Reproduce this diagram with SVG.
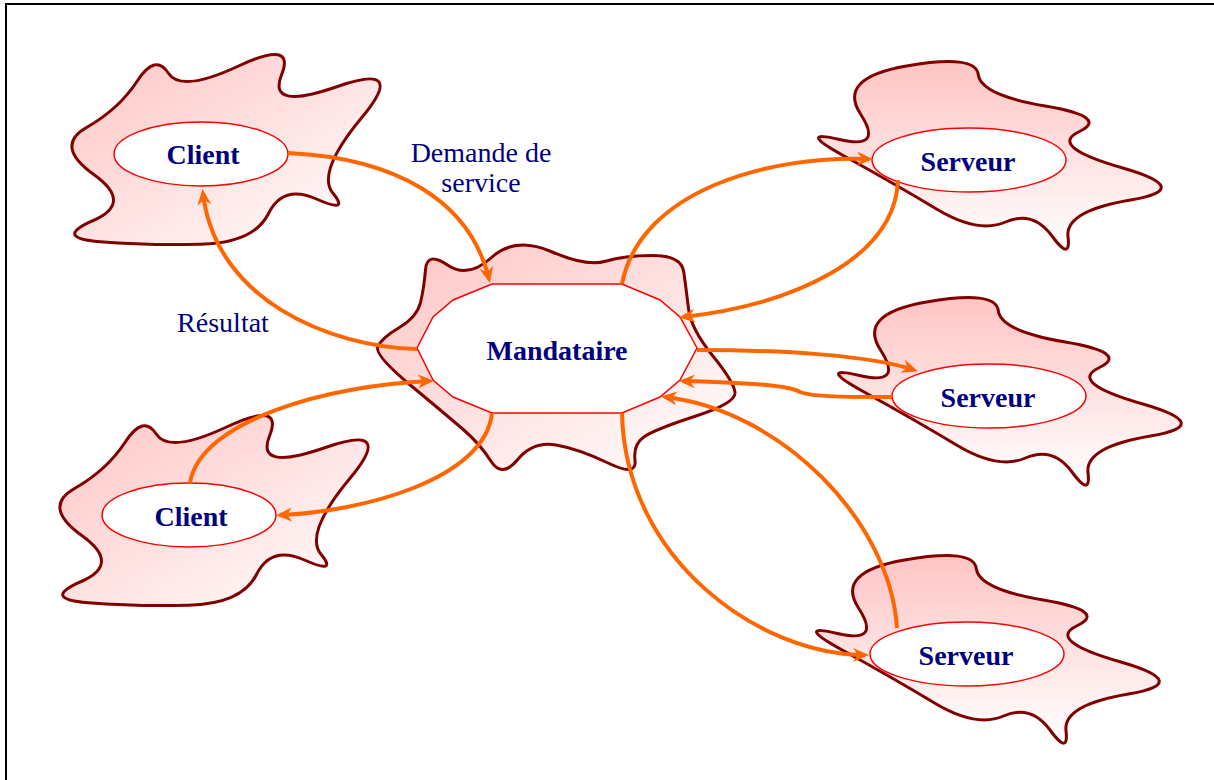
<svg xmlns="http://www.w3.org/2000/svg" width="1214" height="780" viewBox="0 0 1214 780">
  <defs>
    <linearGradient id="gDiag" x1="0" y1="0" x2="1" y2="1">
      <stop offset="0" stop-color="#ffc4c4"/>
      <stop offset="1" stop-color="#ffffff"/>
    </linearGradient>
    <linearGradient id="gVert" x1="0" y1="0" x2="0" y2="1">
      <stop offset="0" stop-color="#ffc4c4"/>
      <stop offset="1" stop-color="#ffffff"/>
    </linearGradient>
    <marker id="arrow" viewBox="0 0 16 14" markerWidth="16" markerHeight="14" refX="12" refY="7" orient="auto" markerUnits="userSpaceOnUse">
      <path d="M0,0 L16,7 L0,14 L5,7 Z" fill="#ff6600"/>
    </marker>
    <!-- wavy outlines reused by the client and server blobs -->
    <path id="clientBlob" d="M93.75,174.5 Q54,146 86.5,127.5 Q119,109 137.25,81 Q155.5,53 168.25,73 Q181,93 238.5,66 Q296,39 281.5,75 Q267,111 337.5,86.5 Q408,62 362,117.25 Q316,172.5 333,193.25 Q350,214 316.5,199 Q283,184 268.5,213.5 Q254,243 200.5,244.25 Q147,245.5 100,241.75 Q53,238 93.25,220.5 Q133.5,203 93.75,174.5 Z"/>
    <path id="serverBlob" d="M845,156.5 Q795,129 839.5,139.5 Q884,150 860.5,114 Q837,78 906.5,66 Q976,54 978.25,74.5 Q980.5,95 1045.25,106 Q1110,117 1079,131.75 Q1048,146.5 1122,167.75 Q1196,189 1130.5,200 Q1065,211 1068,236.5 Q1071,262 1052,236 Q1033,210 1005.5,222 Q978,234 936.5,209 Q895,184 845,156.5 Z"/>
  </defs>
  <style>
    .blob { stroke: #800000; stroke-width: 3; stroke-linejoin: round; }
    .client { fill: url(#gDiag); }
    .server { fill: url(#gVert); }
    .box { fill: #ffffff; stroke: #ff0000; stroke-width: 1.5; }
    .name { font-family: "Liberation Serif", "Times New Roman", serif; font-weight: bold; font-size: 28px; fill: #000080; text-anchor: middle; }
    .note { font-family: "Liberation Serif", "Times New Roman", serif; font-size: 28px; fill: #000080; text-anchor: middle; }
    .link { fill: none; stroke: #ff6600; stroke-width: 4; marker-end: url(#arrow); }
  </style>

  <rect width="1214" height="780" fill="#ffffff"/>
  <path d="M1214,4 H6 V780" fill="none" stroke="#000000" stroke-width="2"/>

  <!-- central broker -->
  <g id="mandataire">
    <path class="blob client" d="M425.5,269.5 Q427,251 447.5,265 Q468,279 491.5,257.5 Q515,236 551,251.5 Q587,267 605.5,261.25 Q624,255.5 652.75,255.5 Q681.5,255.5 683.75,271.75 Q686,288 688.5,308.5 Q691,329 712.5,355.5 Q734,382 735,392.5 Q736,403 696,416 Q656,429 644.5,436.5 Q633,444 635,460.5 Q637,477 608,463 Q579,449 556,445 Q533,441 517.5,459.75 Q502,478.5 491,461.25 Q480,444 463.5,429.75 Q447,415.5 410.5,385.25 Q374,355 377.85,346.5 Q381.7,338 399.35,327.5 Q417,317 420.5,302.5 Q424,288 425.5,269.5 Z"/>
    <polygon class="box" points="492,284 622,284 660,300 680,317 697,348 680,380 660,397 622,413 492,413 453,397 433,380 417,348 433,317 453,300"/>
    <text class="name" x="557" y="360">Mandataire</text>
  </g>

  <!-- clients -->
  <g id="client-top">
    <use href="#clientBlob" class="blob client"/>
    <ellipse class="box" cx="201" cy="154" rx="87" ry="32"/>
    <text class="name" x="203" y="164">Client</text>
  </g>
  <g id="client-bottom" transform="translate(-12,361)">
    <use href="#clientBlob" class="blob client"/>
    <ellipse class="box" cx="201" cy="154" rx="87" ry="32"/>
    <text class="name" x="203" y="165">Client</text>
  </g>

  <!-- servers -->
  <g id="serveur-top">
    <use href="#serverBlob" class="blob server"/>
    <ellipse class="box" cx="969" cy="160" rx="97" ry="32"/>
    <text class="name" x="968" y="171">Serveur</text>
  </g>
  <g id="serveur-middle" transform="translate(20,236)">
    <use href="#serverBlob" class="blob server"/>
    <ellipse class="box" cx="969" cy="160" rx="97" ry="32"/>
    <text class="name" x="968" y="171">Serveur</text>
  </g>
  <g id="serveur-bottom" transform="translate(-2,494)">
    <use href="#serverBlob" class="blob server"/>
    <ellipse class="box" cx="969" cy="160" rx="97" ry="32"/>
    <text class="name" x="968" y="171">Serveur</text>
  </g>

  <!-- request / result flows -->
  <g id="connectors">
    <path class="link" d="M288,153 C395,158 470,200 489,279"/>
    <path class="link" d="M417,349 C330,347 215,300 203,193"/>
    <path class="link" d="M190,483 C200,420 330,385 430,381"/>
    <path class="link" d="M492,413 C485,480 360,512 280,515"/>
    <path class="link" d="M622,284 C640,190 770,155 869,159"/>
    <path class="link" d="M898,180 C895,260 790,305 683,317"/>
    <path class="link" d="M697,350 C780,350 870,355 914,370"/>
    <path class="link" d="M892,397 C850,397 812,397 800,392 C790,386 760,383 683,381"/>
    <path class="link" d="M897,628 C890,520 780,410 665,397"/>
    <path class="link" d="M622,413 C625,560 760,655 865,655"/>
  </g>

  <g id="labels">
    <text class="note" x="481" y="162">Demande de</text>
    <text class="note" x="481" y="192">service</text>
    <text class="note" x="223" y="332">Résultat</text>
  </g>
</svg>
